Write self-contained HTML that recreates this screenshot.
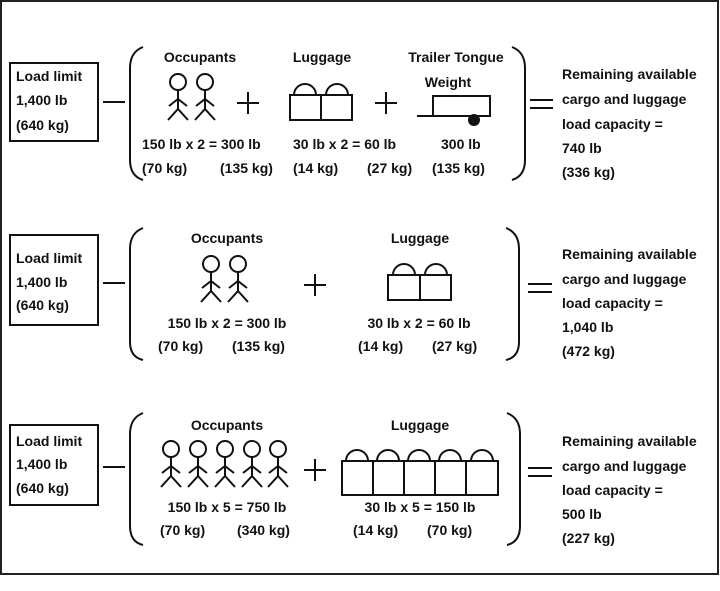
<!DOCTYPE html>
<html><head><meta charset="utf-8"><style>
html,body{margin:0;padding:0;background:#fff}
svg{display:block}
text{font-family:"Liberation Sans",Arial,sans-serif;font-weight:bold;font-size:14px;fill:#111}
</style></head><body>
<svg width="720" height="591" viewBox="0 0 720 591" xmlns="http://www.w3.org/2000/svg">
<defs>
<g id="p" fill="none" stroke="#111" stroke-width="2">
<circle cx="0" cy="0" r="8" fill="#fff"/>
<line x1="0" y1="8" x2="0" y2="27"/>
<polyline points="-9,24 0,17 9,24"/>
<polyline points="-10,38 0,27 10,38"/>
</g>
<g id="bag" fill="none" stroke="#111" stroke-width="2">
<path d="M-11,0 A11,11 0 0 1 11,0"/>
</g>
</defs>
<rect x="1" y="1" width="717" height="573" fill="none" stroke="#222" stroke-width="2"/>
<g fill="none" stroke="#111" stroke-width="2">
<!-- Row 1 -->
<rect x="10" y="63" width="88" height="78"/>
<line x1="103" y1="102" x2="125" y2="102"/>
<path d="M143,47 Q130,52 130,68 L130,160 Q130,176 143,180"/>
<path d="M512,47 Q525,52 525,68 L525,160 Q525,176 512,180"/>
<line x1="237" y1="103" x2="259" y2="103"/><line x1="248" y1="92" x2="248" y2="114"/>
<line x1="375" y1="103" x2="397" y2="103"/><line x1="386" y1="92" x2="386" y2="114"/>
<line x1="530" y1="100" x2="553" y2="100"/><line x1="530" y1="108" x2="553" y2="108"/>
<rect x="290" y="95" width="31" height="25"/><rect x="321" y="95" width="31" height="25"/>
<rect x="433" y="96" width="57" height="20"/>
<line x1="417" y1="116" x2="490" y2="116"/>
</g>
<circle cx="474" cy="120" r="6" fill="#111"/>
<use href="#bag" x="305" y="95"/><use href="#bag" x="337" y="95"/>
<use href="#p" x="178" y="82"/><use href="#p" x="205" y="82"/>
<text x="200" y="62" text-anchor="middle">Occupants</text>
<text x="322" y="62" text-anchor="middle">Luggage</text>
<text x="456" y="62" text-anchor="middle">Trailer Tongue</text>
<text x="448" y="87" text-anchor="middle">Weight</text>
<text x="142" y="149">150 lb x 2 = 300 lb</text>
<text x="293" y="149">30 lb x 2 = 60 lb</text>
<text x="441" y="149">300 lb</text>
<text x="142" y="173">(70 kg)</text>
<text x="220" y="173">(135 kg)</text>
<text x="293" y="173">(14 kg)</text>
<text x="367" y="173">(27 kg)</text>
<text x="432" y="173">(135 kg)</text>
<text x="16" y="81">Load limit</text>
<text x="16" y="105">1,400 lb</text>
<text x="16" y="130">(640 kg)</text>
<text x="562" y="79">Remaining available</text>
<text x="562" y="104">cargo and luggage</text>
<text x="562" y="129">load capacity =</text>
<text x="562" y="153">740 lb</text>
<text x="562" y="177">(336 kg)</text>

<!-- Row 2 -->
<g fill="none" stroke="#111" stroke-width="2">
<rect x="10" y="235" width="88" height="90"/>
<line x1="103" y1="283" x2="125" y2="283"/>
<path d="M143,228 Q130,233 130,249 L130,342 Q130,357 143,360"/>
<path d="M506,228 Q519,233 519,249 L519,342 Q519,357 506,360"/>
<line x1="304" y1="285" x2="326" y2="285"/><line x1="315" y1="274" x2="315" y2="296"/>
<line x1="528" y1="284" x2="552" y2="284"/><line x1="528" y1="292" x2="552" y2="292"/>
<rect x="388" y="275" width="32" height="25"/><rect x="420" y="275" width="31" height="25"/>
</g>
<use href="#bag" x="404" y="275"/><use href="#bag" x="436" y="275"/>
<use href="#p" x="211" y="264"/><use href="#p" x="238" y="264"/>
<text x="227" y="243" text-anchor="middle">Occupants</text>
<text x="420" y="243" text-anchor="middle">Luggage</text>
<text x="227" y="328" text-anchor="middle">150 lb x 2 = 300 lb</text>
<text x="419" y="328" text-anchor="middle">30 lb x 2 = 60 lb</text>
<text x="158" y="351">(70 kg)</text>
<text x="232" y="351">(135 kg)</text>
<text x="358" y="351">(14 kg)</text>
<text x="432" y="351">(27 kg)</text>
<text x="16" y="263">Load limit</text>
<text x="16" y="287">1,400 lb</text>
<text x="16" y="310">(640 kg)</text>
<text x="562" y="259">Remaining available</text>
<text x="562" y="284">cargo and luggage</text>
<text x="562" y="308">load capacity =</text>
<text x="562" y="332">1,040 lb</text>
<text x="562" y="356">(472 kg)</text>

<!-- Row 3 -->
<g fill="none" stroke="#111" stroke-width="2">
<rect x="10" y="425" width="88" height="80"/>
<line x1="103" y1="467" x2="125" y2="467"/>
<path d="M143,413 Q130,418 130,434 L130,526 Q130,542 143,545"/>
<path d="M507,413 Q520,418 520,434 L520,526 Q520,542 507,545"/>
<line x1="304" y1="470" x2="326" y2="470"/><line x1="315" y1="459" x2="315" y2="481"/>
<line x1="528" y1="468" x2="552" y2="468"/><line x1="528" y1="476" x2="552" y2="476"/>
<rect x="342" y="461" width="31" height="34"/><rect x="373" y="461" width="31" height="34"/>
<rect x="404" y="461" width="31" height="34"/><rect x="435" y="461" width="31" height="34"/>
<rect x="466" y="461" width="32" height="34"/>
</g>
<use href="#bag" x="357" y="461"/><use href="#bag" x="388" y="461"/><use href="#bag" x="419" y="461"/><use href="#bag" x="450" y="461"/><use href="#bag" x="482" y="461"/>
<use href="#p" x="171" y="449"/><use href="#p" x="198" y="449"/><use href="#p" x="225" y="449"/><use href="#p" x="252" y="449"/><use href="#p" x="278" y="449"/>
<text x="227" y="430" text-anchor="middle">Occupants</text>
<text x="420" y="430" text-anchor="middle">Luggage</text>
<text x="227" y="512" text-anchor="middle">150 lb x 5 = 750 lb</text>
<text x="420" y="512" text-anchor="middle">30 lb x 5 = 150 lb</text>
<text x="160" y="535">(70 kg)</text>
<text x="237" y="535">(340 kg)</text>
<text x="353" y="535">(14 kg)</text>
<text x="427" y="535">(70 kg)</text>
<text x="16" y="446">Load limit</text>
<text x="16" y="469">1,400 lb</text>
<text x="16" y="493">(640 kg)</text>
<text x="562" y="446">Remaining available</text>
<text x="562" y="471">cargo and luggage</text>
<text x="562" y="495">load capacity =</text>
<text x="562" y="519">500 lb</text>
<text x="562" y="543">(227 kg)</text>
</svg>
</body></html>
